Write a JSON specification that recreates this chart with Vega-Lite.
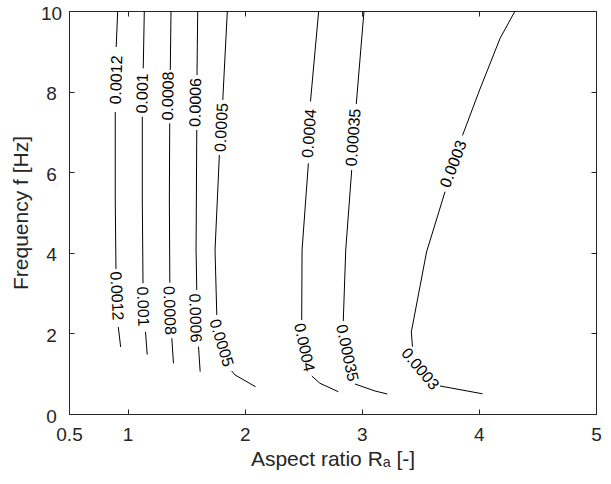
{
  "$schema": "https://vega.github.io/schema/vega-lite/v6.json",
  "autosize": {"type": "none"},
  "width": 527,
  "height": 403,
  "padding": {"left": 69, "top": 11, "right": 15, "bottom": 70},
  "background": "white",
  "config": {
    "view": {"stroke": null},
    "font": "Liberation Sans",
    "axis": {
      "grid": false,
      "domainColor": "#262626",
      "domainWidth": 1,
      "tickColor": "#262626",
      "tickWidth": 1,
      "labelColor": "#262626",
      "titleColor": "#262626",
      "labelFont": "Liberation Sans",
      "titleFont": "Liberation Sans",
      "labelFontSize": 19,
      "titleFontSize": 21,
      "titleFontWeight": "normal",
      "labelFlush": false,
      "labelOverlap": false
    }
  },
  "datasets": {
    "lines": [
      {"seg": "0.0012a", "o": 1, "x": 0.916, "y": 10},
      {"seg": "0.0012a", "o": 2, "x": 0.903, "y": 9.107},
      {"seg": "0.0012b", "o": 1, "x": 0.895, "y": 7.494},
      {"seg": "0.0012b", "o": 2, "x": 0.895, "y": 5.31},
      {"seg": "0.0012b", "o": 3, "x": 0.901, "y": 3.598},
      {"seg": "0.0012c", "o": 1, "x": 0.921, "y": 2.159},
      {"seg": "0.0012c", "o": 2, "x": 0.941, "y": 1.663},
      {"seg": "0.001a", "o": 1, "x": 1.143, "y": 10},
      {"seg": "0.001a", "o": 2, "x": 1.134, "y": 8.578},
      {"seg": "0.001b", "o": 1, "x": 1.126, "y": 7.377},
      {"seg": "0.001b", "o": 2, "x": 1.126, "y": 5.31},
      {"seg": "0.001b", "o": 3, "x": 1.132, "y": 3.243},
      {"seg": "0.001c", "o": 1, "x": 1.153, "y": 2.042},
      {"seg": "0.001c", "o": 2, "x": 1.168, "y": 1.476},
      {"seg": "0.0008a", "o": 1, "x": 1.371, "y": 10},
      {"seg": "0.0008a", "o": 2, "x": 1.365, "y": 8.536},
      {"seg": "0.0008b", "o": 1, "x": 1.36, "y": 7.213},
      {"seg": "0.0008b", "o": 2, "x": 1.357, "y": 5.31},
      {"seg": "0.0008b", "o": 3, "x": 1.361, "y": 3.258},
      {"seg": "0.0008c", "o": 1, "x": 1.378, "y": 1.881},
      {"seg": "0.0008c", "o": 2, "x": 1.392, "y": 1.258},
      {"seg": "0.0006a", "o": 1, "x": 1.599, "y": 10},
      {"seg": "0.0006a", "o": 2, "x": 1.593, "y": 8.412},
      {"seg": "0.0006b", "o": 1, "x": 1.591, "y": 7.047},
      {"seg": "0.0006b", "o": 2, "x": 1.585, "y": 4.069},
      {"seg": "0.0006b", "o": 3, "x": 1.591, "y": 3.077},
      {"seg": "0.0006c", "o": 1, "x": 1.606, "y": 1.67},
      {"seg": "0.0006c", "o": 2, "x": 1.62, "y": 1.05},
      {"seg": "0.0005a", "o": 1, "x": 1.852, "y": 10},
      {"seg": "0.0005a", "o": 2, "x": 1.813, "y": 7.792},
      {"seg": "0.0005b", "o": 1, "x": 1.784, "y": 6.427},
      {"seg": "0.0005b", "o": 2, "x": 1.747, "y": 4.069},
      {"seg": "0.0005b", "o": 3, "x": 1.762, "y": 2.457},
      {"seg": "0.0005c", "o": 1, "x": 1.889, "y": 1.067},
      {"seg": "0.0005c", "o": 2, "x": 1.918, "y": 0.968},
      {"seg": "0.0005c", "o": 3, "x": 2.093, "y": 0.677},
      {"seg": "0.0004a", "o": 1, "x": 2.632, "y": 10},
      {"seg": "0.0004a", "o": 2, "x": 2.562, "y": 7.754},
      {"seg": "0.0004b", "o": 1, "x": 2.544, "y": 6.221},
      {"seg": "0.0004b", "o": 2, "x": 2.49, "y": 4.069},
      {"seg": "0.0004b", "o": 3, "x": 2.487, "y": 2.333},
      {"seg": "0.0004c", "o": 1, "x": 2.573, "y": 0.943},
      {"seg": "0.0004c", "o": 2, "x": 2.643, "y": 0.762},
      {"seg": "0.0004c", "o": 3, "x": 2.8, "y": 0.553},
      {"seg": "0.00035a", "o": 1, "x": 3.019, "y": 10},
      {"seg": "0.00035a", "o": 2, "x": 2.953, "y": 7.692},
      {"seg": "0.00035b", "o": 1, "x": 2.914, "y": 6.055},
      {"seg": "0.00035b", "o": 2, "x": 2.863, "y": 4.069},
      {"seg": "0.00035b", "o": 3, "x": 2.842, "y": 2.308},
      {"seg": "0.00035c", "o": 1, "x": 2.942, "y": 0.744},
      {"seg": "0.00035c", "o": 2, "x": 3.113, "y": 0.571},
      {"seg": "0.00035c", "o": 3, "x": 3.218, "y": 0.496},
      {"seg": "0.0003a", "o": 1, "x": 4.309, "y": 10},
      {"seg": "0.0003a", "o": 2, "x": 4.181, "y": 9.323},
      {"seg": "0.0003a", "o": 3, "x": 4.006, "y": 8.04},
      {"seg": "0.0003a", "o": 4, "x": 3.86, "y": 6.911},
      {"seg": "0.0003b", "o": 1, "x": 3.711, "y": 5.516},
      {"seg": "0.0003b", "o": 2, "x": 3.553, "y": 4.02},
      {"seg": "0.0003b", "o": 3, "x": 3.423, "y": 2.035},
      {"seg": "0.0003b", "o": 4, "x": 3.433, "y": 1.67},
      {"seg": "0.0003c", "o": 1, "x": 3.668, "y": 0.695},
      {"seg": "0.0003c", "o": 2, "x": 4.031, "y": 0.501}
    ],
    "labels": [
      {"label": "0.0012", "x": 0.906, "y": 8.288, "angle": -88},
      {"label": "0.0012", "x": 0.906, "y": 2.928, "angle": 87},
      {"label": "0.001", "x": 1.129, "y": 7.953, "angle": -89},
      {"label": "0.001", "x": 1.129, "y": 2.667, "angle": 88},
      {"label": "0.0008", "x": 1.348, "y": 7.891, "angle": -89},
      {"label": "0.0008", "x": 1.357, "y": 2.568, "angle": 88},
      {"label": "0.0006", "x": 1.582, "y": 7.73, "angle": -89},
      {"label": "0.0006", "x": 1.576, "y": 2.382, "angle": 88},
      {"label": "0.0005", "x": 1.804, "y": 7.109, "angle": -87},
      {"label": "0.0005", "x": 1.8, "y": 1.762, "angle": 73},
      {"label": "0.0004", "x": 2.554, "y": 6.96, "angle": -86},
      {"label": "0.0004", "x": 2.507, "y": 1.65, "angle": 78},
      {"label": "0.00035", "x": 2.93, "y": 6.861, "angle": -86},
      {"label": "0.00035", "x": 2.874, "y": 1.514, "angle": 78},
      {"label": "0.0003", "x": 3.784, "y": 6.203, "angle": -69},
      {"label": "0.0003", "x": 3.497, "y": 1.117, "angle": 50}
    ]
  },
  "layer": [
    {
      "data": {"name": "lines"},
      "mark": {"type": "line", "color": "black", "strokeWidth": 1, "clip": true},
      "encoding": {
        "x": {
          "field": "x", "type": "quantitative",
          "scale": {"domain": [0.5, 5], "nice": false, "zero": false},
          "axis": {"orient": "bottom", "values": [0.5, 1, 2, 3, 4, 5], "format": "~g", "labelExpr": "datum.value == 0.5 ? '0.5' : datum.label + '\u00a0\u00a0'", "tickSize": -5, "labelPadding": 16, "title": "Aspect ratio Rₐ [-]", "titlePadding": 4}
        },
        "y": {
          "field": "y", "type": "quantitative",
          "scale": {"domain": [0, 10], "nice": false, "zero": false},
          "axis": {"orient": "left", "values": [0, 2, 4, 6, 8, 10], "format": "d", "tickSize": -5, "labelPadding": 23, "labelAlign": "center", "labelOffset": 2, "title": "Frequency f [Hz]", "titlePadding": 9}
        },
        "detail": {"field": "seg"},
        "order": {"field": "o", "type": "quantitative"}
      }
    },
    {
      "data": {"name": "labels"},
      "mark": {"type": "text", "color": "black", "fontSize": 16, "font": "Liberation Sans", "align": "center", "baseline": "middle"},
      "encoding": {
        "x": {
          "field": "x", "type": "quantitative",
          "axis": {"orient": "top", "values": [0.5, 1, 2, 3, 4, 5], "labels": false, "tickSize": -5, "title": null}
        },
        "y": {
          "field": "y", "type": "quantitative",
          "axis": {"orient": "right", "values": [0, 2, 4, 6, 8, 10], "labels": false, "tickSize": -5, "title": null}
        },
        "text": {"field": "label"},
        "angle": {"field": "angle", "type": "quantitative", "scale": null}
      }
    }
  ],
  "resolve": {"axis": {"x": "independent", "y": "independent"}}
}
